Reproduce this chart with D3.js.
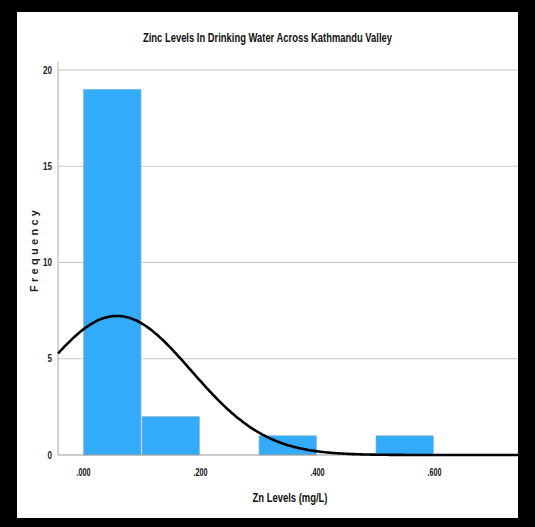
<!DOCTYPE html>
<html>
<head>
<meta charset="utf-8">
<script src="https://cdn.jsdelivr.net/npm/d3@7/dist/d3.min.js"></script>
<style>
  html, body { margin: 0; padding: 0; background: #000; }
  svg { display: block; }
</style>
</head>
<body>
<script>
// Histogram bins (lower edge, upper edge) and counts
const binStarts = [0.0, 0.1, 0.3, 0.5];
const binEnds   = [0.1, 0.2, 0.4, 0.6];
const counts    = [19, 2, 1, 1];

// Fitted normal curve parameters
const curveMean = 0.058;
const curveSd = 0.127;
const totalN = 23;
const binWidth = 0.1;

const yTicks = [0, 5, 10, 15, 20];
const xTicks = [0.0, 0.2, 0.4, 0.6];
const xTickLabels = [".000", ".200", ".400", ".600"];

const W = 535, H = 527;
const sans = "'Liberation Sans', Arial, sans-serif";

const svg = d3.select("body").append("svg").attr("width", W).attr("height", H);

// Black frame with white panel
svg.append("rect").attr("width", W).attr("height", H).attr("fill", "#000");
svg.append("rect").attr("x", 17).attr("y", 12).attr("width", 501).attr("height", 506).attr("fill", "#fff");

const plotLeft = 58, plotRight = 518, plotTop = 70, plotBottom = 455;
const x = d3.scaleLinear().domain([0, 0.6]).range([83, 434]);
const y = d3.scaleLinear().domain([0, 20]).range([plotBottom, plotTop]);
const xMin = x.invert(plotLeft), xMax = x.invert(plotRight);

// Grid lines
svg.append("g").selectAll("line").data(yTicks.filter(d => d > 0)).join("line")
  .attr("x1", plotLeft).attr("x2", plotRight)
  .attr("y1", d => y(d)).attr("y2", d => y(d))
  .attr("stroke", "#c8c8c8").attr("stroke-width", 1);

// Bars
svg.append("g").selectAll("rect").data(counts).join("rect")
  .attr("x", (d, i) => x(binStarts[i]) + 0.5)
  .attr("width", (d, i) => x(binEnds[i]) - x(binStarts[i]) - 1)
  .attr("y", d => y(d))
  .attr("height", d => y(0) - y(d))
  .attr("fill", "#33abfb")
  .attr("stroke", "#9ab6c8").attr("stroke-width", 0.6);

// Axes
const yAxis = d3.axisLeft(y).tickValues(yTicks).tickSize(0).tickFormat(d3.format("d"));
const gy = svg.append("g").attr("transform", `translate(${plotLeft},0)`).call(yAxis);
gy.select(".domain").remove();
gy.selectAll("text").attr("font-family", sans).attr("font-size", 10)
  .attr("font-weight", "bold").attr("fill", "#222").attr("x", -6)
  .attr("textLength", d => String(d).length * 4.5).attr("lengthAdjust", "spacingAndGlyphs");
svg.append("line").attr("x1", plotLeft).attr("x2", plotLeft).attr("y1", 62).attr("y2", plotBottom)
  .attr("stroke", "#aaa");

const xAxis = d3.axisBottom(x).tickValues(xTicks).tickSize(0)
  .tickFormat((d, i) => xTickLabels[i]);
const gx = svg.append("g").attr("transform", `translate(0,${plotBottom})`).call(xAxis);
gx.select(".domain").remove();
gx.selectAll("text").attr("font-family", sans).attr("font-size", 10)
  .attr("fill", "#111").attr("dy", "1.8em").attr("font-weight", "bold")
  .attr("textLength", 14).attr("lengthAdjust", "spacingAndGlyphs");
svg.append("line").attr("x1", plotLeft).attr("x2", plotRight).attr("y1", plotBottom).attr("y2", plotBottom)
  .attr("stroke", "#999");

// Normal curve
const pts = d3.range(0, 301).map(k => xMin + (xMax - xMin) * k / 300);
const dens = v => totalN * binWidth / (curveSd * Math.sqrt(2 * Math.PI)) *
  Math.exp(-0.5 * Math.pow((v - curveMean) / curveSd, 2));
svg.append("path")
  .datum(pts)
  .attr("d", d3.line().x(d => x(d)).y(d => y(dens(d))).curve(d3.curveBasis))
  .attr("fill", "none").attr("stroke", "#000").attr("stroke-width", 2.6);

// Titles
svg.append("text").attr("x", 267.5).attr("y", 42).attr("text-anchor", "middle")
  .attr("font-family", sans).attr("font-size", 12).attr("font-weight", "bold")
  .attr("fill", "#111")
  .attr("textLength", 249).attr("lengthAdjust", "spacingAndGlyphs")
  .text("Zinc Levels In Drinking Water Across Kathmandu Valley");

svg.append("text").attr("x", 290).attr("y", 502).attr("text-anchor", "middle")
  .attr("font-family", sans).attr("font-size", 12).attr("font-weight", "bold")
  .attr("fill", "#111")
  .attr("textLength", 75).attr("lengthAdjust", "spacingAndGlyphs")
  .text("Zn Levels (mg/L)");

svg.append("text").attr("transform", "translate(38,251) rotate(-90)")
  .attr("text-anchor", "middle")
  .attr("font-family", sans).attr("font-size", 11).attr("font-weight", "bold")
  .attr("fill", "#222")
  .attr("textLength", 82).attr("lengthAdjust", "spacing")
  .text("Frequency");
</script>
</body>
</html>
